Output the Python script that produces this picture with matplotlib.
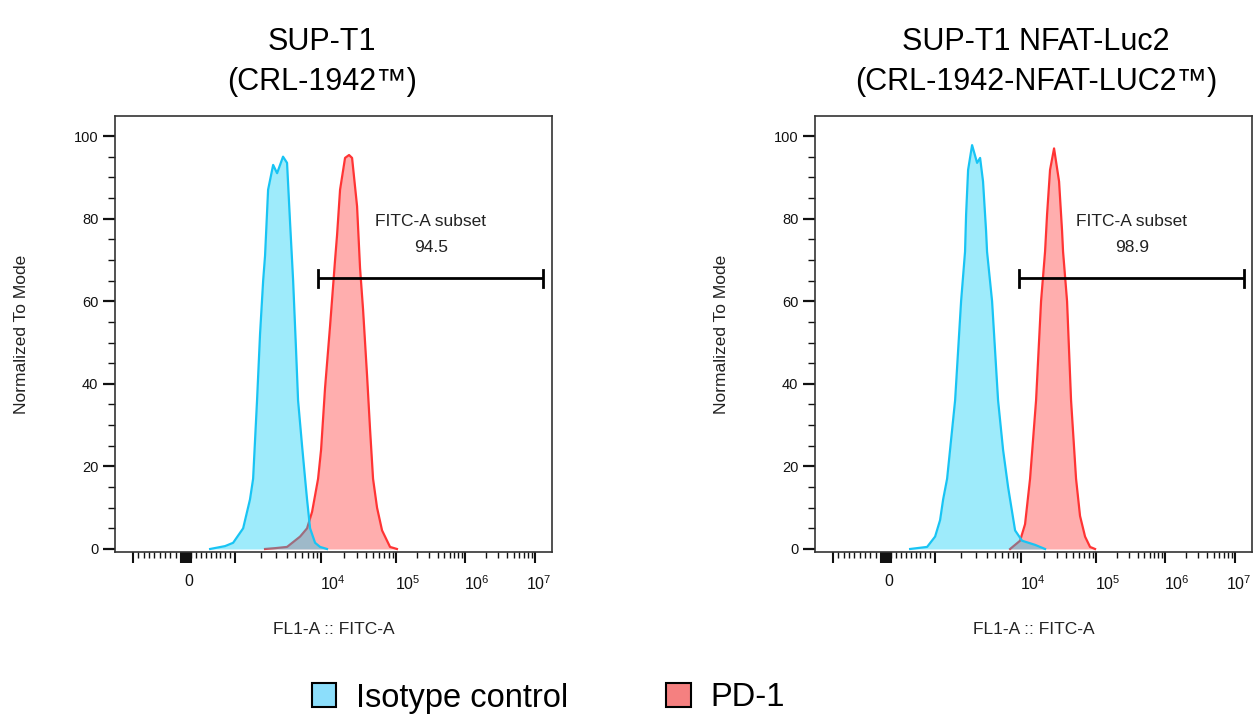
import numpy as np
import matplotlib
matplotlib.use("Agg")
import matplotlib.pyplot as plt
from matplotlib.patches import Patch
from matplotlib import transforms

plt.rcParams['font.family'] = ['Liberation Sans', 'DejaVu Sans']
plt.rcParams['mathtext.fontset'] = 'custom'
plt.rcParams['mathtext.rm'] = 'Liberation Sans'

# ---------------- data ----------------
TITLES = ["SUP-T1\n(CRL-1942\u2122)", "SUP-T1 NFAT-Luc2\n(CRL-1942-NFAT-LUC2\u2122)"]
SERIES = ["Isotype control", "PD-1"]
GATE_NAME = "FITC-A subset"
GATE_PCT = ["94.5", "98.9"]
GATE_LO = [9300, 9500]
GATE_HI = [1.3e7, 1.35e7]
GATE_Y = 65.5

# left panel (SUP-T1)
ISO1_X = [490, 796, 960, 1240, 1490, 1620, 1800, 1950, 2120, 2230, 2420, 2770, 3080,
          3610, 4020, 4360, 4730, 5120, 5400, 6010, 6520, 6870, 7450, 8520, 9740, 12000]
ISO1_Y = [0, 0.7, 1.5, 5, 12, 17, 36, 52, 65, 71, 87, 93, 91,
          95, 93.5, 79, 65, 48, 36, 25, 17, 12, 5, 1.5, 0.5, 0]
PD1_1_X = [2230, 2920, 4020, 5700, 6870, 7860, 8520, 9230, 10000, 11300, 13180, 15370, 16340,
           17920, 20890, 23620, 25910, 30200, 33110, 36310, 41060, 45010, 49350, 55800,
           65070, 83180, 103000]
PD1_1_Y = [0, 0.2, 0.5, 3, 5, 9, 13, 17, 24, 39, 54, 70, 76,
           87, 94.7, 95.4, 94.7, 83, 68, 58, 42, 29, 17, 10,
           4.5, 0.5, 0]

# right panel (SUP-T1 NFAT-Luc2)
ISO2_X = [490, 837, 1000, 1143, 1240, 1379, 1709, 2006, 2230, 2294, 2420, 2693, 3080,
          3337, 3610, 3917, 4020, 4600, 5400, 6176, 7063, 7450, 8520, 10310, 15370, 20890]
ISO2_Y = [0, 0.5, 3, 7, 12, 17, 36, 60, 72, 81, 91.8, 97.8, 93.5,
          94.7, 89, 77, 72, 60, 36, 24, 15, 12, 4.5, 2, 1, 0]
PD1_2_X = [7450, 9740, 11300, 13180, 15850, 18480, 20890, 22220, 24350, 27540, 32120,
           35220, 36310, 41060, 46420, 54120, 61150, 71370, 83180, 97000]
PD1_2_Y = [0, 2, 6, 17, 36, 60, 72, 81, 91.8, 97, 89,
           77, 72, 60, 36, 17, 8, 3, 0.5, 0]

PANELS = [(ISO1_X, ISO1_Y, PD1_1_X, PD1_1_Y), (ISO2_X, ISO2_Y, PD1_2_X, PD1_2_Y)]

XTICK_MAJOR = [-1000, 0, 1000, 1e4, 1e5, 1e6, 1e7]
XTICK_LABELS = ['', '0', '', r'$\mathregular{10^{4}}$', r'$\mathregular{10^{5}}$',
                r'$\mathregular{10^{6}}$', r'$\mathregular{10^{7}}$']
YTICKS = [0, 20, 40, 60, 80, 100]

# ---------------- biexponential-like display scale ----------------
S_ANCH = np.array([-2, -1, 0, 1, 2, 3, 4, 5, 6], dtype=float)
P_ANCH = np.array([80, 133, 186, 235, 321, 396, 465, 535, 605], dtype=float)


def fwd(x):
    x = np.asarray(x, dtype=float)
    ax_ = np.abs(x)
    with np.errstate(divide='ignore', invalid='ignore'):
        s = np.where(ax_ <= 1000, x / 1000.0,
                     np.sign(x) * (1 + np.log10(np.maximum(ax_, 1e-9) / 1000.0)))
    return np.interp(s, S_ANCH, P_ANCH)


def inv(p):
    p = np.asarray(p, dtype=float)
    s = np.interp(p, P_ANCH, S_ANCH)
    return np.where(np.abs(s) <= 1, s * 1000.0, np.sign(s) * 1000.0 * 10 ** (np.abs(s) - 1))


XLIM = (-2200, 1.75e7)
YLIM = (-0.73, 104.85)

BLUE_EDGE = '#18c4f4'
BLUE_FILL = (0.0, 0.80, 0.97, 0.38)
RED_EDGE = '#ff3434'
RED_FILL = (1.0, 0.31, 0.31, 0.46)

W, H = 1256, 717
fig = plt.figure(figsize=(W / 100, H / 100), dpi=100)

axes_px = [(115, 116, 552, 552), (815, 116, 1252, 552)]
title_x = [322, 1036]

minor_x = []
for m in range(1, 10):
    minor_x += [-m * 100, m * 100]
for dec in [1e3, 1e4, 1e5, 1e6]:
    for m in range(2, 10):
        minor_x.append(m * dec)
near0 = [k * 10 for k in range(-9, 10) if k != 0]

for i, (ix, iy, px, py) in enumerate(PANELS):
    l, t, r, b = axes_px[i]
    ax = fig.add_axes([l / W, 1 - b / H, (r - l) / W, (b - t) / H])
    ax.set_xscale('function', functions=(fwd, inv))
    ax.set_xlim(*XLIM)
    ax.set_ylim(*YLIM)

    ax.fill_between(px, py, 0, color=RED_FILL, lw=0, zorder=2)
    ax.plot(px, py, color=RED_EDGE, lw=1.6, zorder=3)
    ax.fill_between(ix, iy, 0, color=BLUE_FILL, lw=0, zorder=4)
    ax.plot(ix, iy, color=BLUE_EDGE, lw=1.6, zorder=5)

    # gate
    lo, hi = GATE_LO[i], GATE_HI[i]
    ax.plot([lo, hi], [GATE_Y, GATE_Y], color='black', lw=2.0, zorder=6, solid_capstyle='butt')
    for xv in (lo, hi):
        ax.plot([xv, xv], [GATE_Y - 2.1, GATE_Y + 2.1], color='black', lw=2.0, zorder=6)
    mid = float(inv((fwd(lo) + fwd(hi)) / 2))
    ax.text(mid, 79.2, GATE_NAME, ha='center', va='center', fontsize=12.5, color='#222222')
    ax.text(mid, 72.9, GATE_PCT[i], ha='center', va='center', fontsize=12.5, color='#222222')

    # ticks
    ax.set_xticks(XTICK_MAJOR + near0)
    ax.set_xticklabels(XTICK_LABELS + [''] * len(near0))
    ax.set_xticks(minor_x, minor=True)
    ax.set_yticks(YTICKS)
    ax.set_yticks(np.arange(0, 101, 5), minor=True)
    ax.tick_params(axis='x', which='major', direction='out', length=8, width=1.5,
                   labelsize=11.5, pad=8, colors='#111111')
    ax.tick_params(axis='x', which='minor', direction='out', length=4, width=1.0, colors='#111111')
    ax.tick_params(axis='y', which='major', direction='out', length=9, width=1.6,
                   labelsize=10.5, pad=3, colors='#111111')
    ax.tick_params(axis='y', which='minor', direction='out', length=5, width=1.0, colors='#111111')
    for lbl in ax.get_xticklabels():
        if lbl.get_text() == XTICK_LABELS[-1]:
            lbl.set_horizontalalignment('center')
            shift = 3 / 72
        else:
            lbl.set_horizontalalignment('left')
            shift = -1 / 72
        lbl.set_transform(lbl.get_transform() + transforms.ScaledTranslation(shift, 0, fig.dpi_scale_trans))
    for sp in ax.spines.values():
        sp.set_linewidth(1.2)
        sp.set_color('#333333')

    ax.set_xlabel('FL1-A :: FITC-A', fontsize=12.5, labelpad=21, color='#222222')
    ax.set_ylabel('Normalized To Mode', fontsize=12.5, labelpad=32, color='#222222')

    fig.text(title_x[i] / W, 1 - 62 / H, TITLES[i], ha='center', va='center',
             fontsize=22, linespacing=1.45)

handles = [Patch(facecolor='#8cdefb', edgecolor='black', lw=1.5, label=SERIES[0]),
           Patch(facecolor='#f58080', edgecolor='black', lw=1.5, label=SERIES[1])]
fig.legend(handles=handles, loc='center left', bbox_to_anchor=(312 / W, 1 - 698 / H),
           ncol=2, frameon=False, fontsize=23.5, handlelength=0.75, handleheight=0.75,
           handletextpad=0.6, columnspacing=3.0, borderpad=0, borderaxespad=0)

fig.savefig('out.png', dpi=100)
